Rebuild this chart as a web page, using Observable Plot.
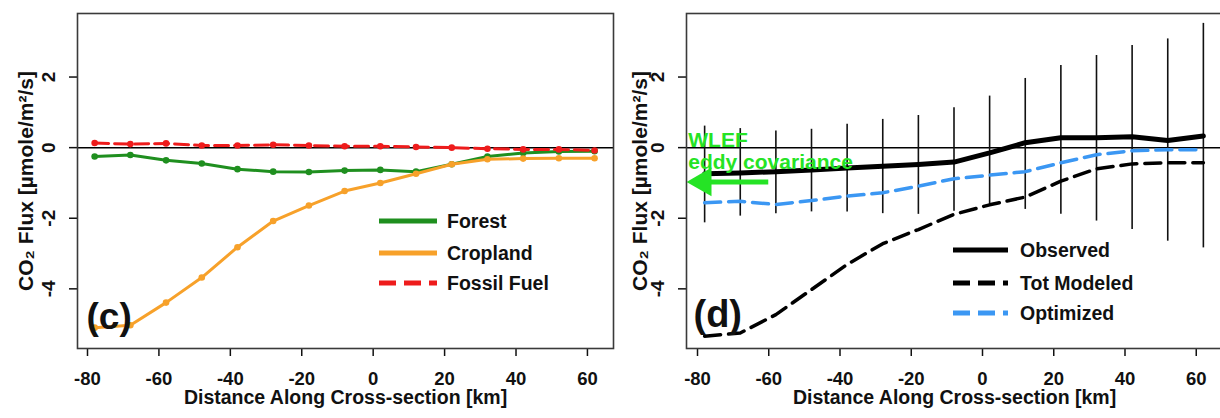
<!DOCTYPE html>
<html><head><meta charset="utf-8">
<script src="https://cdn.jsdelivr.net/npm/d3@7"></script>
<script src="https://cdn.jsdelivr.net/npm/@observablehq/plot@0.6"></script>
<style>
html,body{margin:0;padding:0;background:#fff;overflow:hidden;width:1220px;height:418px}
#wrap{position:relative;width:1220px;height:418px;overflow:hidden}
.panel{position:absolute;top:0}
.legend{position:absolute;top:0;left:0;pointer-events:none}
</style></head>
<body><div id="wrap"></div>
<script>
// ---- data ----
const distance = [-78,-68,-58,-48,-38,-28,-18,-8,2,12,22,32,42,52,62];
const xTicks = [-80,-60,-40,-20,0,20,40,60];
const yTicks = [-4,-2,0,2];
// panel (c)
const forest   = [-0.25,-0.21,-0.36,-0.45,-0.61,-0.68,-0.69,-0.65,-0.63,-0.68,-0.47,-0.25,-0.15,-0.11,-0.10];
const cropland = [-5.10,-5.03,-4.39,-3.68,-2.82,-2.08,-1.64,-1.23,-1.00,-0.74,-0.47,-0.33,-0.31,-0.30,-0.30];
const fossil   = [0.13,0.10,0.12,0.06,0.06,0.08,0.06,0.04,0.04,0.02,0.00,-0.03,-0.05,-0.05,-0.08];
// panel (d)
const observed   = [-0.74,-0.72,-0.68,-0.63,-0.58,-0.53,-0.48,-0.41,-0.15,0.14,0.28,0.28,0.31,0.20,0.33];
const errTop     = [0.61,0.54,0.47,0.52,0.66,0.80,0.91,1.13,1.46,1.96,2.33,2.61,2.89,3.08,3.52];
const errBottom  = [-2.13,-1.94,-1.87,-1.82,-1.82,-1.87,-1.89,-1.80,-1.65,-1.75,-1.89,-2.08,-2.32,-2.65,-2.84];
const totModeled = [-5.34,-5.25,-4.73,-4.02,-3.31,-2.72,-2.32,-1.89,-1.62,-1.40,-0.95,-0.60,-0.46,-0.43,-0.43];
const optimized  = [-1.56,-1.52,-1.61,-1.50,-1.37,-1.28,-1.09,-0.88,-0.78,-0.68,-0.43,-0.20,-0.09,-0.06,-0.06];
// labels
const xTitle = "Distance Along Cross-section [km]";
const yTitle = "CO\u2082 Flux [\u00b5mole/m\u00b2/s]";
const legendC = ["Forest","Cropland","Fossil Fuel"];
const legendD = ["Observed","Tot Modeled","Optimized"];
const annotText = "WLEF\neddy covariance";

// ---- style ----
const REG = '"Liberation Sans",Arial,Helvetica,sans-serif';
const GREEN = "#1f8f1f", ORANGE = "#f7a12a", RED = "#ee1c1c", BLUE = "#3b97f3", LIME = "#25e325";
const fmt = d => String(d);

function axes(){
  return [
    Plot.axisX({ticks: xTicks, tickFormat: fmt, tickSize: 8, tickPadding: 15, label: null, fontSize: 18.5, strokeWidth: 1.5}),
    Plot.axisY({ticks: yTicks, tickFormat: fmt, tickSize: 8, tickPadding: 15, tickRotate: -90, label: null, fontSize: 19, strokeWidth: 1.5}),
    Plot.text([xTitle], {frameAnchor: "bottom", dy: 42, lineAnchor: "top", textAnchor: "middle", fontSize: 19.5}),
  ];
}

const wrap = document.getElementById("wrap");

const plotC = Plot.plot({
  width: 620, height: 418,
  marginLeft: 77, marginRight: 7, marginTop: 13, marginBottom: 70,
  x: {domain: [-82.8, 67.3]},
  y: {domain: [-5.69, 3.8]},
  style: {fontFamily: REG, fontWeight: "bold", color: "#111", background: "transparent", overflow: "visible"},
  marks: [
    ...axes(),
    Plot.text([yTitle], {frameAnchor: "left", dx: -51, rotate: -90, textAnchor: "middle", lineAnchor: "middle", fontSize: 21}),
    Plot.ruleY([0], {stroke: "#000", strokeWidth: 1.5}),
    Plot.line(distance, {x: distance, y: forest, stroke: GREEN, strokeWidth: 3}),
    Plot.dot(distance, {x: distance, y: forest, fill: GREEN, r: 3.3}),
    Plot.line(distance, {x: distance, y: cropland, stroke: ORANGE, strokeWidth: 3}),
    Plot.dot(distance, {x: distance, y: cropland, fill: ORANGE, r: 3.3}),
    Plot.line(distance, {x: distance, y: fossil, stroke: RED, strokeWidth: 3, strokeDasharray: "14,6"}),
    Plot.dot(distance, {x: distance, y: fossil, fill: RED, r: 3.3}),
    Plot.text(["(c)"], {frameAnchor: "bottom-left", dx: 9, dy: -20, lineAnchor: "bottom", textAnchor: "start", fontSize: 37}),
    Plot.frame({stroke: "#3a3a3a", strokeWidth: 1.6})
  ]
});
plotC.classList.add("panel"); plotC.style.left = "0px";
wrap.appendChild(plotC);

const arrowY = -0.97, arrowTail = -60, arrowHead = -78.4;
const plotD = Plot.plot({
  width: 620, height: 418,
  marginLeft: 76, marginRight: 8, marginTop: 13, marginBottom: 70,
  x: {domain: [-83.09, 67.37]},
  y: {domain: [-5.69, 3.8]},
  style: {fontFamily: REG, fontWeight: "bold", color: "#111", background: "transparent", overflow: "visible"},
  marks: [
    ...axes(),
    Plot.text([yTitle], {frameAnchor: "left", dx: -46, rotate: -90, textAnchor: "middle", lineAnchor: "middle", fontSize: 21}),
    Plot.ruleY([0], {stroke: "#000", strokeWidth: 1.5}),
    Plot.ruleX(distance, {x: distance, y1: errBottom, y2: errTop, stroke: "#111", strokeWidth: 1.6}),
    Plot.line(distance, {x: distance, y: totModeled, stroke: "#000", strokeWidth: 3.5, strokeDasharray: "16,8"}),
    Plot.line(distance, {x: distance, y: optimized, stroke: BLUE, strokeWidth: 3.5, strokeDasharray: "16,8"}),
    Plot.line(distance, {x: distance, y: observed, stroke: "#000", strokeWidth: 5}),
    Plot.ruleY([arrowY], {x1: arrowHead, x2: arrowTail, stroke: LIME, strokeWidth: 5}),
    Plot.dot([arrowY], {x: arrowHead, y: arrowY, symbol: "triangle", r: 10.7, fill: LIME, stroke: "none", rotate: -90}),
    Plot.text([annotText], {x: -82.6, y: -0.60, lineAnchor: "bottom", textAnchor: "start", lineHeight: 1.03, fontSize: 21, fill: LIME}),
    Plot.text(["(d)"], {frameAnchor: "bottom-left", dx: 7, dy: -22, lineAnchor: "bottom", textAnchor: "start", fontSize: 38}),
    Plot.frame({stroke: "#3a3a3a", strokeWidth: 1.6})
  ]
});
plotD.classList.add("panel"); plotD.style.left = "610px";
wrap.appendChild(plotD);

// ---- legends ----
const leg = d3.select(wrap).append("svg").attr("class","legend").attr("width",1220).attr("height",418)
  .style("font-family", REG).style("font-weight","bold").style("font-size","19.5px");
function legend(items, x0, x1, tx, ys){
  items.forEach((it, i) => {
    leg.append("line").attr("x1", x0).attr("x2", x1).attr("y1", ys[i]).attr("y2", ys[i])
      .attr("stroke", it.color).attr("stroke-width", 5).attr("stroke-dasharray", it.dash || null);
    leg.append("text").attr("x", tx).attr("y", ys[i]).attr("dy", "0.36em").attr("fill", "#111").text(it.label);
  });
}
legend([
  {label: legendC[0], color: GREEN},
  {label: legendC[1], color: ORANGE},
  {label: legendC[2], color: RED, dash: "17,8"}
], 379, 437, 447, [221, 253, 283]);
legend([
  {label: legendD[0], color: "#000"},
  {label: legendD[1], color: "#000", dash: "17,8"},
  {label: legendD[2], color: BLUE, dash: "17,8"}
], 953, 1008, 1020, [250, 283, 313]);
</script>
</body></html>
